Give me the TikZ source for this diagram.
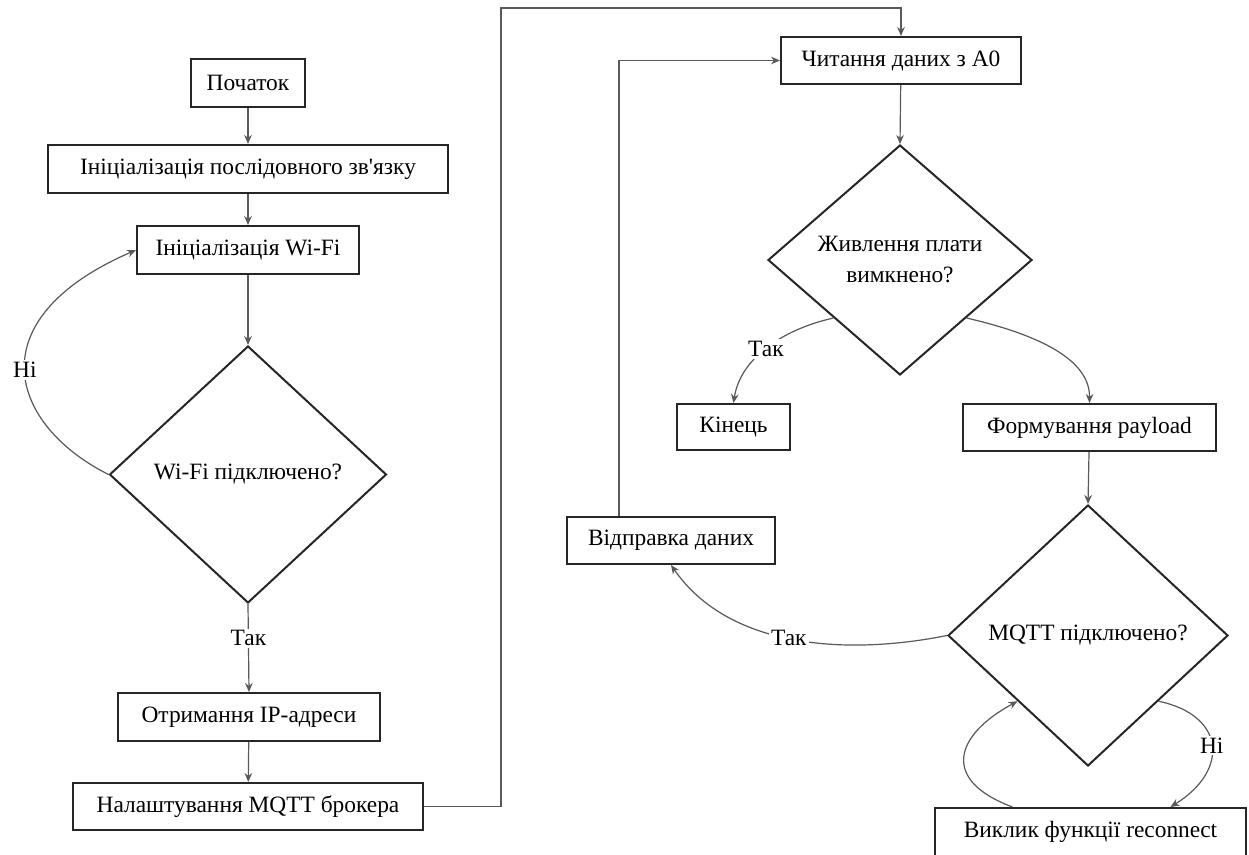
\documentclass[tikz,border=0pt]{standalone}
\usepackage{fontspec}
\setmainfont{Liberation Serif}
\newfontfamily\aposfont{Liberation Serif}[Ligatures=Common]
\usetikzlibrary{shapes.geometric,arrows.meta,calc}
\begin{document}
\begin{tikzpicture}[x=0.5pt,y=-0.5pt,
  font=\fontsize{11.7}{14}\selectfont,
  box/.style={draw=black!85,line width=1pt,inner sep=0pt,minimum height=24pt,align=center},
  dia/.style={draw=black!85,line width=1pt,diamond,inner sep=0pt,align=center},
  arr/.style={draw=black!65,line width=0.6pt,-{Stealth[length=4.5pt,width=3.8pt]}},
  lbl/.style={fill=white,inner sep=1pt}]
\useasboundingbox (0,0) rectangle (1249,855);
\clip (0,0) rectangle (1249,855);
\fill[white] (0,0) rectangle (1249,855);

% left column
\node[box,minimum width=57pt] (start) at (248,83) {Початок};
\node[box,minimum width=200pt] (serial) at (248,169) {Ініціалізація послідовного зв{\aposfont\symbol{39}}язку};
\node[box,minimum width=111pt] (wifi) at (248,250) {Ініціалізація Wi-Fi};
\node[dia,minimum width=138.5pt,minimum height=128.5pt] (d1) at (248,474.5) {Wi-Fi підключено?};
\node[box,minimum width=131pt] (ip) at (249,717) {Отримання IP-адреси};
\node[box,minimum width=175pt,minimum height=23.5pt] (broker) at (248,806.5) {Налаштування MQTT брокера};

% right column
\node[box,minimum width=120pt,minimum height=23.5pt] (read) at (901,60.5) {Читання даних з А0};
\node[dia,minimum width=132pt,minimum height=115pt] (d2) at (900,260) {Живлення плати\\[1.5pt]вимкнено?};
\node[box,minimum width=56.5pt,minimum height=23pt] (kin) at (733.5,427) {Кінець};
\node[box,minimum width=126.5pt,minimum height=23.5pt] (pay) at (1089.5,427.5) {Формування payload};
\node[box,minimum width=104pt,minimum height=23.5pt] (send) at (671,540.5) {Відправка даних};
\node[dia,minimum width=140pt,minimum height=130.5pt] (d3) at (1088,635.5) {MQTT підключено?};
\node[box,minimum width=155.5pt,minimum height=24pt] (vyk) at (1090.5,832) {Виклик функції reconnect};

% connectors left
\draw[arr] (start) -- (serial);
\draw[arr] (serial) -- (wifi);
\draw[arr] (wifi) -- (d1);
\draw[arr] (d1.south) -- node[lbl,pos=0.39] {Так} (ip.north);
\draw[arr] (d1.west) .. controls (10,425) and (-25,320) .. node[lbl,pos=0.5] {Ні} (wifi.west);
\draw[arr] (ip) -- (broker);
\draw[arr] (broker.east) -- ++(77,0) |- ($(read.north)+(0,-28)$) -- (read.north);

% connectors right
\draw[arr] (read) -- (d2.north);
\draw[arr] (d2.south west) .. controls (780,330) and (740,360) .. node[lbl,pos=0.5] {Так} (kin.north);
\draw[arr] (d2.south east) .. controls (1040,335) and (1090,360) .. (pay.north);
\draw[arr] (pay) -- (d3.north);
\draw[arr] (d3.west) .. controls (850,655) and (730,650) .. node[lbl,pos=0.52] {Так} (send.south);
\draw[arr] ($(send.north west)+(53,0)$) |- (read.west);
\draw[arr] (d3.south east) .. controls (1225,715) and (1230,770) .. node[lbl,pos=0.5] {Ні} ($(vyk.north)+(80,0)$);
\draw[arr] ($(vyk.north)+(-78,0)$) .. controls (940,780) and (955,735) .. (d3.south west);
\end{tikzpicture}
\end{document}
